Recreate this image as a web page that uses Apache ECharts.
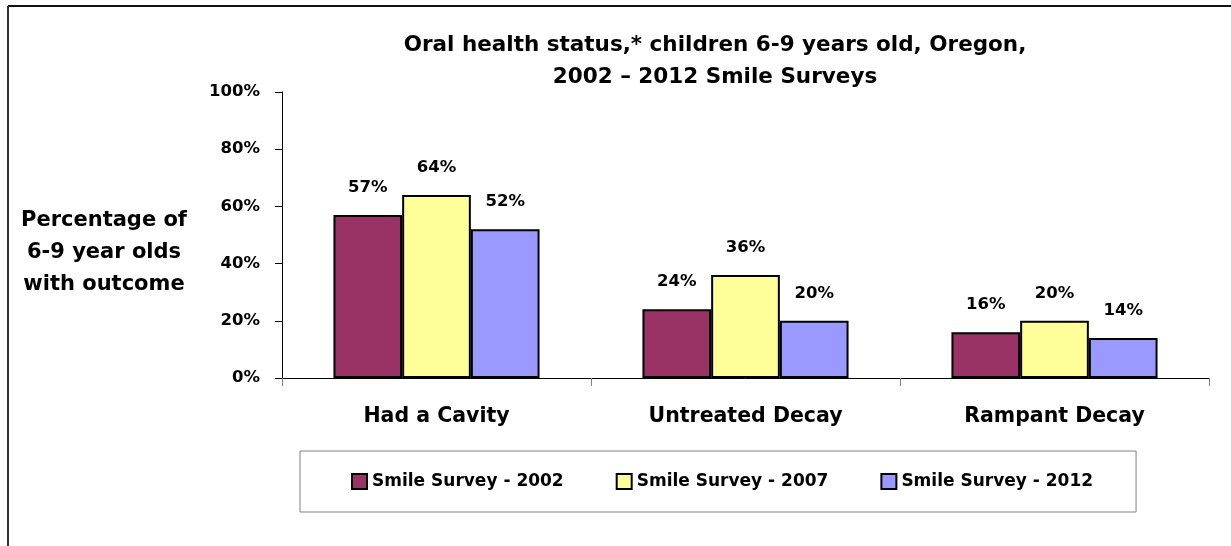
<!DOCTYPE html>
<html>
<head>
<meta charset="utf-8">
<script src="https://cdn.jsdelivr.net/npm/echarts@6/dist/echarts.min.js"></script>
<style>
html,body{margin:0;padding:0;background:#fff;}
#chart{width:1231px;height:546px;}
</style>
</head>
<body>
<div id="chart"></div>
<script>
const categories = ['Had a Cavity', 'Untreated Decay', 'Rampant Decay'];
const seriesNames = ['Smile Survey - 2002', 'Smile Survey - 2007', 'Smile Survey - 2012'];
const survey2002 = [57, 24, 16];
const survey2007 = [64, 36, 20];
const survey2012 = [52, 20, 14];
const yMin = 0, yMax = 100, yStep = 20;
const titleLines = ['Oral health status,* children 6-9 years old, Oregon,', '2002 \u2013 2012 Smile Surveys'];
const yAxisTitle = ['Percentage of', '6-9 year olds', 'with outcome'];

const FONT = 'DejaVu Sans';
const colors = ['#993366', '#FFFF99', '#9999FF'];
const values = [survey2002, survey2007, survey2012];

const chart = echarts.init(document.getElementById('chart'), null, {renderer: 'canvas'});

const series = seriesNames.map((name, i) => ({
  name: name,
  type: 'bar',
  data: values[i],
  barGap: '0%',
  barCategoryGap: '33.3%',
  itemStyle: {color: colors[i], borderColor: '#000', borderWidth: 2},
  label: {
    show: true, position: 'top', distance: 19,
    formatter: '{c}%',
    fontFamily: FONT, fontWeight: 'bold', fontSize: 16.5, color: '#000'
  }
}));

chart.setOption({
  animation: false,
  backgroundColor: '#fff',
  title: {
    text: titleLines.join('\n'),
    left: 710, top: 24, textAlign: 'center',
    textStyle: {fontFamily: FONT, fontWeight: 'bold', fontSize: 21.5, lineHeight: 32, color: '#000'}
  },
  grid: {left: 282, right: 22, top: 92, bottom: 168, containLabel: false},
  legend: {
    data: seriesNames,
    left: 300, top: 451,
    orient: 'horizontal',
    padding: [22, 43, 22, 51],
    itemGap: 52,
    itemWidth: 15, itemHeight: 15,
    icon: 'rect',
    borderColor: '#808080', borderWidth: 1,
    textStyle: {fontFamily: FONT, fontWeight: 'bold', fontSize: 17, color: '#000'}
  },
  xAxis: {
    type: 'category',
    data: categories,
    axisLine: {show: true, lineStyle: {color: '#000', width: 1}},
    axisTick: {show: true, length: 8, alignWithLabel: false, lineStyle: {color: '#808080'}},
    axisLabel: {margin: 28, fontFamily: FONT, fontWeight: 'bold', fontSize: 20.5, color: '#000'}
  },
  yAxis: {
    type: 'value',
    min: yMin, max: yMax, interval: yStep,
    axisLine: {show: true, lineStyle: {color: '#000', width: 1}},
    axisTick: {show: true, length: 7, lineStyle: {color: '#000'}},
    splitLine: {show: false},
    axisLabel: {margin: 22, formatter: '{value}%', fontFamily: FONT, fontWeight: 'bold', fontSize: 16.5, color: '#000'}
  },
  graphic: [
    {type: 'line', shape: {x1: 8, y1: 6, x2: 1231, y2: 6}, style: {stroke: '#111', lineWidth: 2}},
    {type: 'line', shape: {x1: 8, y1: 6, x2: 8, y2: 546}, style: {stroke: '#333', lineWidth: 2}},
    {
      type: 'text', x: 104, y: 253,
      style: {
        text: yAxisTitle.join('\n'), x: 0, y: 0,
        textAlign: 'center', textVerticalAlign: 'middle',
        font: 'bold 21px "DejaVu Sans"', lineHeight: 32, fill: '#000'
      }
    }
  ],
  series: series
});
</script>
</body>
</html>
